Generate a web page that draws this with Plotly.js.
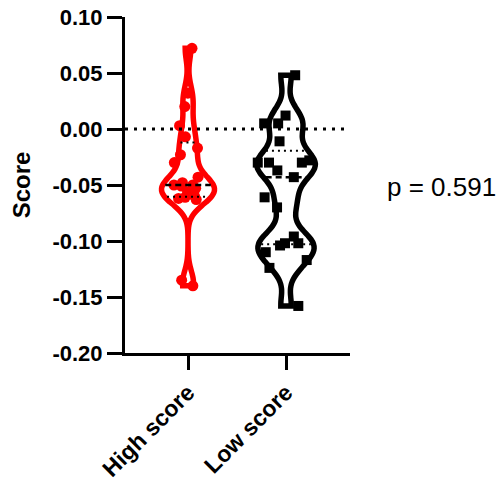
<!DOCTYPE html>
<html>
<head>
<meta charset="utf-8">
<script src="https://cdn.plot.ly/plotly-3.0.1.min.js"></script>
<style>html,body{margin:0;padding:0;background:#fff;}#chart{width:504px;height:485px;}</style>
</head>
<body>
<div id="chart"></div>
<script>
// ---- data ----
var categories = ['High score', 'Low score'];
var highScore = [-0.140, -0.135, -0.063, -0.062, -0.061, -0.060, -0.056, -0.053, -0.051, -0.050,
                 -0.050, -0.048, -0.043, -0.030, -0.023, -0.017, -0.007, 0.003, 0.020, 0.032, 0.072];
var lowScore = [-0.158, -0.124, -0.117, -0.110, -0.104, -0.102, -0.102, -0.096, -0.070, -0.061,
                -0.043, -0.037, -0.030, -0.030, -0.030, -0.028, -0.011, 0.005, 0.005, 0.012, 0.048];
var yTickVals = [-0.20, -0.15, -0.10, -0.05, 0.00, 0.05, 0.10];
var yTickText = ['-0.20', '-0.15', '-0.10', '-0.05', '0.00', '0.05', '0.10'];
var pText = 'p = 0.591';

// ---- styling ----
var FONT = 'Liberation Sans, Arial, Helvetica, sans-serif';
var groups = [
  {vals: highScore, color: 'rgb(255,0,0)', symbol: 'circle', width: 0.54, msize: 11, bw: 0.0105},
  {vals: lowScore, color: 'rgb(0,0,0)', symbol: 'square', width: 0.60, msize: 10, bw: 0.012}
];

function kde(vals, bw) {
  var n = vals.length, c = 1 / (n * bw * Math.sqrt(2 * Math.PI));
  return function (x) {
    var s = 0;
    for (var i = 0; i < n; i++) { var u = (x - vals[i]) / bw; s += Math.exp(-0.5 * u * u); }
    return s * c;
  };
}
function quantile(vals, p) {
  var s = vals.slice().sort(function (a, b) { return a - b; });
  var pos = p * (s.length + 1) - 1;
  var lo = Math.floor(pos), hi = Math.ceil(pos);
  lo = Math.max(0, Math.min(s.length - 1, lo)); hi = Math.max(0, Math.min(s.length - 1, hi));
  return s[lo] + (s[hi] - s[lo]) * (pos - Math.floor(pos));
}

var traces = [];
groups.forEach(function (g, i) {
  traces.push({
    type: 'violin', x0: i, y: g.vals, name: categories[i],
    bandwidth: g.bw, spanmode: 'hard', scalemode: 'width', width: g.width,
    fillcolor: 'rgba(255,255,255,1)', line: {color: g.color, width: 5.5},
    points: 'all', pointpos: 0, jitter: 1,
    marker: {color: g.color, symbol: g.symbol, size: g.msize, line: {width: 0}},
    box: {visible: false}, meanline: {visible: false},
    hoverinfo: 'skip', showlegend: false
  });
});
groups.forEach(function (g, i) {
  var f = kde(g.vals, g.bw);
  var mn = Math.min.apply(null, g.vals), mx = Math.max.apply(null, g.vals), fmax = 0;
  for (var k = 0; k <= 400; k++) { var v = f(mn + (mx - mn) * k / 400); if (v > fmax) fmax = v; }
  [[0.25, 'dot', 2], [0.5, 'dash', 2.5], [0.75, 'dot', 2]].forEach(function (q) {
    var y = quantile(g.vals, q[0]);
    var hw = f(y) / fmax * g.width / 2 * 0.9;
    traces.push({
      type: 'scatter', mode: 'lines', x: [i - hw, i + hw], y: [y, y],
      line: {color: '#000', width: q[2], dash: q[1] === 'dot' ? '2px,4px' : '6px,4px'},
      hoverinfo: 'skip', showlegend: false
    });
  });
});

var layout = {
  width: 504, height: 485,
  margin: {l: 125, r: 154, t: 17, b: 132},
  paper_bgcolor: '#fff', plot_bgcolor: '#fff',
  showlegend: false,
  xaxis: {
    range: [-0.643, 1.653], tickvals: [0, 1], ticktext: categories, tickangle: -45,
    ticks: 'outside', ticklen: 14, tickwidth: 3, tickcolor: '#000',
    showline: true, linewidth: 3, linecolor: '#000', showgrid: false, zeroline: false,
    tickfont: {family: FONT, size: 23, color: '#000', weight: 'bold'}
  },
  yaxis: {
    range: [-0.2, 0.1], tickvals: yTickVals, ticktext: yTickText,
    ticks: 'outside', ticklen: 15, tickwidth: 3, tickcolor: '#000',
    showline: true, linewidth: 3, linecolor: '#000', showgrid: false, zeroline: false,
    tickfont: {family: FONT, size: 22, color: '#000', weight: 'bold'},
    title: {text: 'Score', font: {family: FONT, size: 24, color: '#000', weight: 'bold'}, standoff: 16}
  },
  shapes: [{
    type: 'line', xref: 'paper', x0: 0, x1: 1, yref: 'y', y0: 0, y1: 0, layer: 'above',
    line: {color: '#000', width: 3, dash: '3px,6px'}
  }],
  annotations: [{
    text: pText, xref: 'paper', yref: 'paper', x: 1.407, y: 0.494,
    xanchor: 'center', yanchor: 'middle', showarrow: false,
    font: {family: FONT, size: 26, color: '#000'}
  }]
};

Plotly.newPlot('chart', traces, layout, {staticPlot: true, displayModeBar: false});
</script>
</body>
</html>
